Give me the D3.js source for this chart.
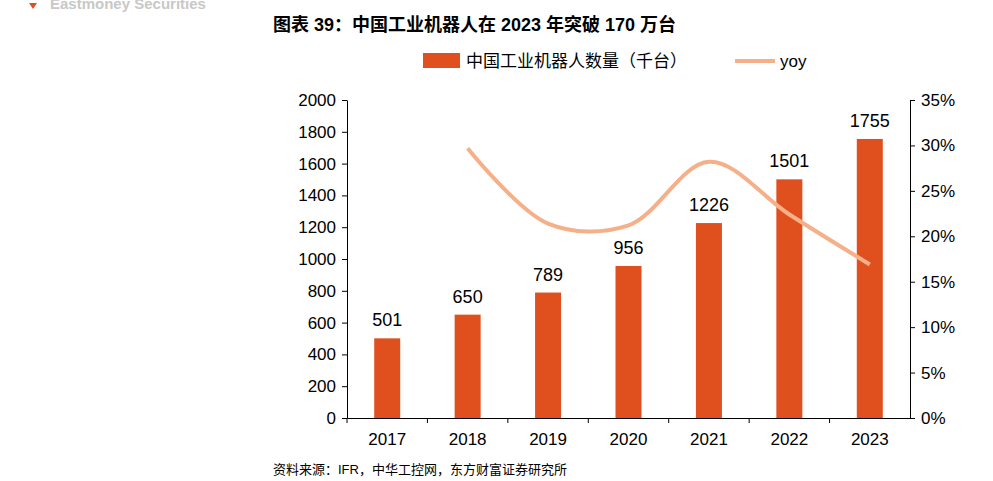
<!DOCTYPE html>
<html><head><meta charset="utf-8">
<script src="https://cdn.jsdelivr.net/npm/d3@7"></script>
<style>body{margin:0;background:#fff}svg{font-family:Arial,"Liberation Sans","Noto Sans CJK SC",sans-serif}</style>
</head><body><div id="chart"></div>
<script>
const years = ['2017', '2018', '2019', '2020', '2021', '2022', '2023']
const units = [501, 650, 789, 956, 1226, 1501, 1755]
const yoy = [null, 29.7, 21.4, 21.2, 28.2, 22.4, 16.9]
const leftTicks = [0, 200, 400, 600, 800, 1000, 1200, 1400, 1600, 1800, 2000]
const rightTicks = [0, 5, 10, 15, 20, 25, 30, 35]

const svg = d3.select('#chart').append('svg').attr('width', 993).attr('height', 481)
const margin = { left: 347, right: 910, top: 100, bottom: 418 }

// header bits
svg.append('path').attr('d', 'M29,3 L37,3 L33,9 Z').attr('fill', '#e0501e')
svg.append('text').attr('x', 50).attr('y', 9).attr('font-size', 15).attr('font-weight', 'bold')
  .attr('fill', '#c8c8c8').text('Eastmoney Securities')
svg.append('text').attr('x', 273).attr('y', 31).attr('font-size', 18).attr('font-weight', 'bold')
  .text('图表 39：中国工业机器人在 2023 年突破 170 万台')

// legend
svg.append('rect').attr('x', 423).attr('y', 53).attr('width', 37).attr('height', 15).attr('fill', '#e0501e')
svg.append('text').attr('x', 466).attr('y', 67).attr('font-size', 17).text('中国工业机器人数量（千台）')
svg.append('line').attr('x1', 735).attr('x2', 775).attr('y1', 61).attr('y2', 61)
  .attr('stroke', '#f5b08a').attr('stroke-width', 4)
svg.append('text').attr('x', 780).attr('y', 67).attr('font-size', 17).text('yoy')

const x = d3.scaleBand().domain(years).range([margin.left, margin.right])
const y = d3.scaleLinear().domain([0, 2000]).range([margin.bottom, margin.top])
const y2 = d3.scaleLinear().domain([0, 35]).range([margin.bottom, margin.top])

const gl = svg.append('g').attr('transform', `translate(${margin.left},0)`)
  .call(d3.axisLeft(y).tickValues(leftTicks).tickSize(5).tickSizeOuter(0).tickFormat(d3.format('d')))
gl.selectAll('text').attr('font-size', 17).attr('fill', '#000').attr('dx', -3)
const gr = svg.append('g').attr('transform', `translate(${margin.right},0)`)
  .call(d3.axisRight(y2).tickValues(rightTicks).tickSize(5).tickSizeOuter(0).tickFormat(d => d + '%'))
gr.selectAll('text').attr('font-size', 17).attr('fill', '#000').attr('dx', 3)
const gb = svg.append('g').attr('transform', `translate(0,${margin.bottom})`)
  .call(d3.axisBottom(x).tickSize(5).tickSizeOuter(0))
gb.selectAll('text').attr('font-size', 17).attr('fill', '#000').attr('dy', '1.1em')
svg.selectAll('.domain, .tick line').attr('stroke', '#000')
// band boundary ticks on x axis
gb.selectAll('.tick line').attr('transform', `translate(${-x.bandwidth() / 2},0)`)

const bw = 26
svg.selectAll('rect.bar').data(units).join('rect').attr('class', 'bar')
  .attr('x', (d, i) => x(years[i]) + x.bandwidth() / 2 - bw / 2)
  .attr('y', d => y(d)).attr('width', bw).attr('height', d => margin.bottom - y(d))
  .attr('fill', '#e0501e')
svg.selectAll('text.lbl').data(units).join('text').attr('class', 'lbl')
  .attr('x', (d, i) => x(years[i]) + x.bandwidth() / 2).attr('y', d => y(d) - 12)
  .attr('text-anchor', 'middle').attr('font-size', 18).text(d => d)

const pts = yoy.map((v, i) => [years[i], v]).filter(d => d[1] != null)
svg.append('path').datum(pts)
  .attr('d', d3.line().x(d => x(d[0]) + x.bandwidth() / 2).y(d => y2(d[1])).curve(d3.curveCatmullRom.alpha(0.5)))
  .attr('fill', 'none').attr('stroke', '#f5b08a').attr('stroke-width', 4)

svg.append('text').attr('x', 273).attr('y', 474).attr('font-size', 13)
  .text('资料来源：IFR，中华工控网，东方财富证券研究所')
</script></body></html>
